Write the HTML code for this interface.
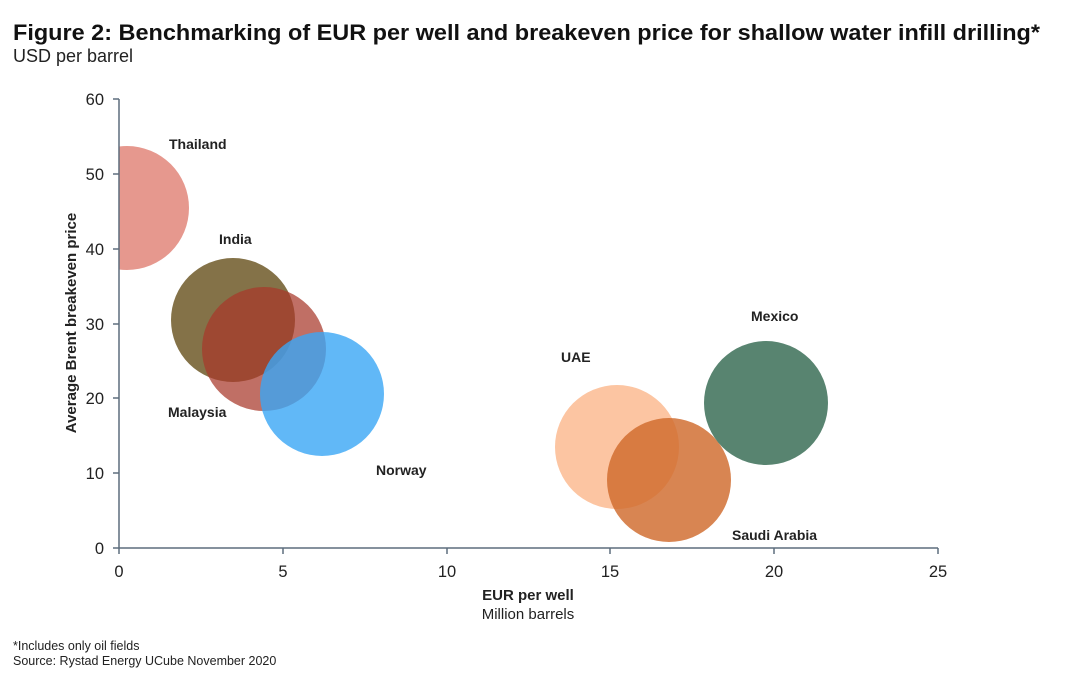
<!DOCTYPE html>
<html><head><meta charset="utf-8"><style>
body{margin:0;background:#fff;width:1068px;height:681px;overflow:hidden;font-family:"Liberation Sans",Arial,sans-serif}
</style></head><body>
<svg width="1068" height="681" xmlns="http://www.w3.org/2000/svg" font-family="Liberation Sans, Arial, sans-serif">
<text x="13" y="40" font-size="22.5" font-weight="bold" fill="#111" textLength="1027" lengthAdjust="spacingAndGlyphs">Figure 2: Benchmarking of EUR per well and breakeven price for shallow water infill drilling*</text>
<text x="13" y="62" font-size="18" fill="#222">USD per barrel</text>
<defs><clipPath id="c"><rect x="119" y="90" width="830" height="458"/></clipPath></defs>
<g clip-path="url(#c)">
<circle cx="127" cy="208" r="62" fill="#e28a7e" opacity="0.88"/>
<circle cx="233" cy="320" r="62" fill="#7d6a3e" opacity="0.95"/>
<circle cx="264" cy="349" r="62" fill="#a8382a" opacity="0.72"/>
<circle cx="322" cy="394" r="62" fill="#3aa6f5" opacity="0.8"/>
<circle cx="617" cy="447" r="62" fill="#fbbb92" opacity="0.85"/>
<circle cx="669" cy="480" r="62" fill="#d06a2c" opacity="0.82"/>
<circle cx="766" cy="403" r="62" fill="#4a7a64" opacity="0.92"/>
</g>
<g stroke="#5d6d7d" stroke-width="1.5" fill="none">
<line x1="119" y1="99" x2="119" y2="548"/>
<line x1="119" y1="548" x2="938" y2="548"/>
<line x1="113" y1="99" x2="119" y2="99"/><line x1="113" y1="174" x2="119" y2="174"/><line x1="113" y1="249" x2="119" y2="249"/><line x1="113" y1="324" x2="119" y2="324"/><line x1="113" y1="398" x2="119" y2="398"/><line x1="113" y1="473" x2="119" y2="473"/><line x1="113" y1="548" x2="119" y2="548"/>
<line x1="119" y1="548" x2="119" y2="554"/><line x1="283" y1="548" x2="283" y2="554"/><line x1="447" y1="548" x2="447" y2="554"/><line x1="610" y1="548" x2="610" y2="554"/><line x1="774" y1="548" x2="774" y2="554"/><line x1="938" y1="548" x2="938" y2="554"/>
</g>
<g font-size="16.5" fill="#222" text-anchor="end">
<text x="104" y="105">60</text><text x="104" y="180">50</text><text x="104" y="255">40</text><text x="104" y="330">30</text><text x="104" y="404">20</text><text x="104" y="479">10</text><text x="104" y="554">0</text>
</g>
<g font-size="16.5" fill="#222" text-anchor="middle">
<text x="119" y="577">0</text><text x="283" y="577">5</text><text x="447" y="577">10</text><text x="610" y="577">15</text><text x="774" y="577">20</text><text x="938" y="577">25</text>
</g>
<text transform="translate(76,323) rotate(-90)" font-size="15" font-weight="bold" fill="#222" text-anchor="middle">Average Brent breakeven price</text>
<text x="528" y="600" font-size="15" font-weight="bold" fill="#222" text-anchor="middle">EUR per well</text>
<text x="528" y="619" font-size="15" fill="#222" text-anchor="middle">Million barrels</text>
<g font-size="14" font-weight="bold" fill="#222">
<text x="169" y="149">Thailand</text>
<text x="219" y="244">India</text>
<text x="168" y="417">Malaysia</text>
<text x="376" y="475">Norway</text>
<text x="561" y="362">UAE</text>
<text x="751" y="321">Mexico</text>
<text x="732" y="540">Saudi Arabia</text>
</g>
<text x="13" y="650" font-size="12.5" fill="#222">*Includes only oil fields</text>
<text x="13" y="665" font-size="12.5" fill="#222">Source: Rystad Energy UCube November 2020</text>
</svg>
</body></html>
